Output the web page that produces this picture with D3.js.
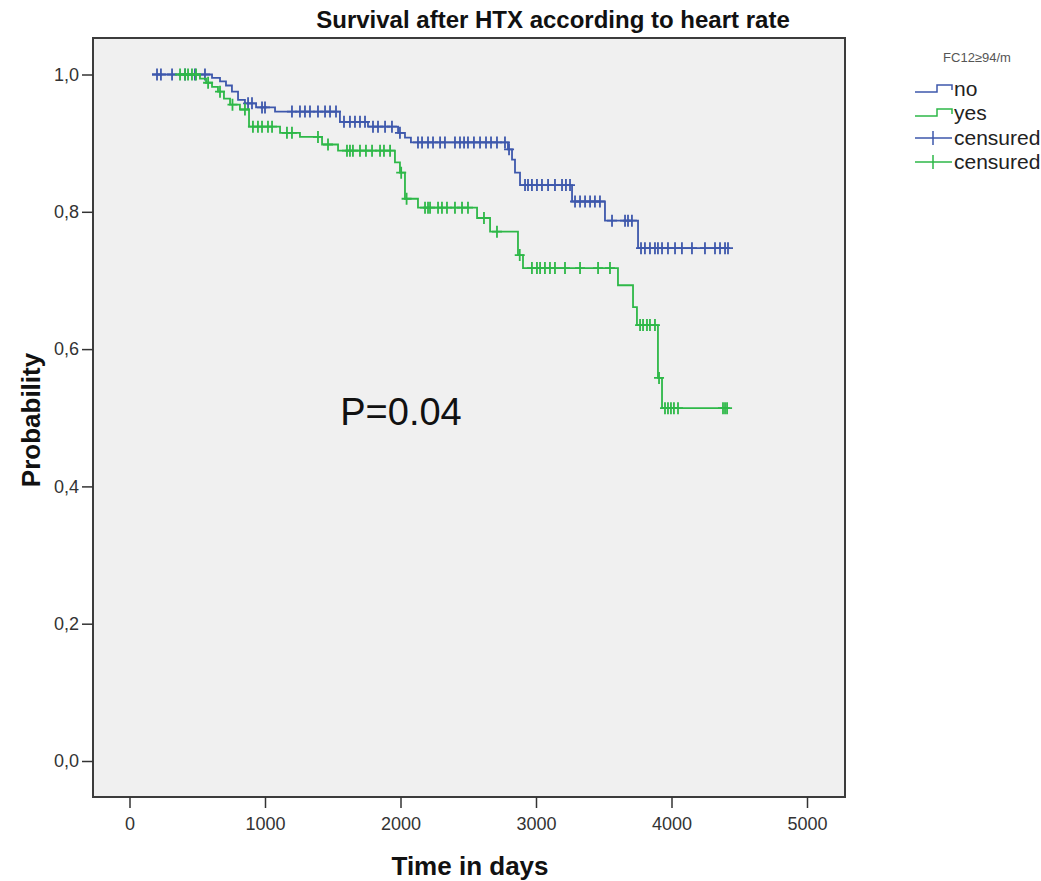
<!DOCTYPE html>
<html>
<head>
<meta charset="utf-8">
<script src="https://cdn.jsdelivr.net/npm/d3@7"></script>
<style>
  body { margin: 0; background: #fff; }
  svg text { font-family: "Liberation Sans", Arial, sans-serif; }
</style>
</head>
<body>
<div id="chart"></div>
<script>
// curvas Kaplan-Meier (tiempo en dias, supervivencia acumulada)
const title = "Survival after HTX according to heart rate";
const xTicks = [0, 1000, 2000, 3000, 4000, 5000];
const yTicks = [0, 0.2, 0.4, 0.6, 0.8, 1.0];

// grupo "no"
const noSteps = [
  [166, 1.0], [609, 0.995], [668, 0.990], [712, 0.984], [756, 0.975], [801, 0.963],
  [852, 0.958], [934, 0.952], [1074, 0.946], [1553, 0.931], [1760, 0.924], [1982, 0.915],
  [2033, 0.908], [2077, 0.901], [2793, 0.891], [2823, 0.876], [2845, 0.857], [2882, 0.839],
  [3266, 0.815], [3509, 0.787], [3753, 0.747]
];
const noEnd = 4417;
const noCensored = [
  203, 232, 314, 410, 483, 557, 875, 904, 978, 1000, 1199, 1258, 1295, 1332, 1391, 1443,
  1480, 1524, 1583, 1627, 1664, 1701, 1738, 1797, 1834, 1886, 1937, 1996, 2129, 2159,
  2203, 2240, 2292, 2328, 2402, 2439, 2469, 2498, 2542, 2587, 2631, 2668, 2712, 2771,
  2801, 2919, 2941, 2970, 3007, 3044, 3089, 3140, 3192, 3221, 3251, 3288, 3325, 3362,
  3399, 3435, 3472, 3561, 3657, 3679, 3708, 3775, 3804, 3841, 3878, 3900, 3930, 3974,
  4026, 4077, 4151, 4247, 4321, 4358, 4395, 4417
];

// grupo "yes"
const yesSteps = [
  [358, 1.0], [520, 0.994], [565, 0.988], [609, 0.982], [653, 0.975], [697, 0.965],
  [742, 0.956], [815, 0.949], [882, 0.924], [1111, 0.915], [1258, 0.909], [1421, 0.898],
  [1539, 0.889], [1959, 0.872], [1996, 0.857], [2033, 0.819], [2129, 0.806], [2565, 0.791],
  [2661, 0.771], [2867, 0.737], [2904, 0.718], [3605, 0.693], [3716, 0.661], [3745, 0.635],
  [3900, 0.558], [3930, 0.514]
];
const yesEnd = 4410;
const yesCensored = [
  373, 410, 432, 461, 491, 580, 668, 760, 852, 911, 948, 978, 1022, 1052, 1162, 1199,
  1391, 1465, 1605, 1627, 1649, 1701, 1745, 1790, 1849, 1878, 1923, 2005, 2045, 2181,
  2203, 2218, 2277, 2306, 2343, 2402, 2454, 2498, 2616, 2712, 2880, 2970, 3007, 3030,
  3066, 3103, 3140, 3214, 3325, 3458, 3546, 3768, 3790, 3819, 3841, 3878, 3908, 3952,
  3974, 3996, 4018, 4048, 4380, 4395, 4410
];

const legendTitle = "FC12\u226594/m";
const legendLabels = ["no", "yes", "censured", "censured"];
const pText = "P=0.04";

// ---- layout ----
const width = 1041, height = 881;
const frame = {left: 93, top: 38, right: 845, bottom: 797};
const blue = "#3e58ac", green = "#2eb848";

const svg = d3.select("#chart").append("svg")
  .attr("width", width)
  .attr("height", height);

const x = d3.scaleLinear().domain([0, 5000]).range([129.5, 807]);
const y = d3.scaleLinear().domain([0, 1]).range([761, 74.5]);

// fondo gris del area de graficos
svg.append("rect")
  .attr("x", frame.left).attr("y", frame.top)
  .attr("width", frame.right - frame.left)
  .attr("height", frame.bottom - frame.top)
  .attr("fill", "#f0f0f0")
  .attr("stroke", "#3c3c3c")
  .attr("stroke-width", 2);

// ejes (coma decimal en el eje y, enteros sin separador en x)
const fmt = d => d3.format(".1f")(d).replace(".", ",");

const xAxis = svg.append("g")
  .attr("transform", `translate(0,${frame.bottom})`)
  .call(d3.axisBottom(x).tickValues(xTicks).tickFormat(d3.format("d"))
    .tickSize(11).tickPadding(9).tickSizeOuter(0));

const yAxis = svg.append("g")
  .attr("transform", `translate(${frame.left},0)`)
  .call(d3.axisLeft(y).tickValues(yTicks).tickFormat(fmt).tickSize(11).tickPadding(3).tickSizeOuter(0));

[xAxis, yAxis].forEach(a => {
  a.select(".domain").remove();
  a.selectAll(".tick line").attr("stroke", "#333").attr("stroke-width", 1.5);
  a.selectAll(".tick text")
    .attr("fill", "#333")
    .style("font-size", "18px")
    .style("font-family", "'Liberation Sans', Arial, sans-serif");
});

// supervivencia en un tiempo dado (para ubicar las marcas de censura)
function survAt(steps, t){
  let p = steps[0][1];
  steps.forEach(s => { if(s[0] <= t) p = s[1]; });
  return p;
}

const line = d3.line()
  .x(d => x(d[0]))
  .y(d => y(d[1]))
  .curve(d3.curveStepAfter);

const groups = [
  {steps: noSteps, end: noEnd, cens: noCensored, color: blue},
  {steps: yesSteps, end: yesEnd, cens: yesCensored, color: green}
];

groups.forEach(g => {
  const pts = g.steps.concat([[g.end, g.steps[g.steps.length - 1][1]]]);
  svg.append("path")
    .datum(pts)
    .attr("fill", "none")
    .attr("stroke", g.color)
    .attr("stroke-width", 1.8)
    .attr("d", line);

  // cruces de censura
  svg.append("g").selectAll("path")
    .data(g.cens)
    .join("path")
    .attr("fill", "none")
    .attr("stroke", g.color)
    .attr("stroke-width", 1.8)
    .attr("d", t => {
      const cx = x(t), cy = y(survAt(g.steps, t));
      return `M${cx},${cy - 6}V${cy + 6}M${cx - 5},${cy}H${cx + 5}`;
    });
});

// titulos
svg.append("text")
  .attr("x", 553).attr("y", 28)
  .attr("text-anchor", "middle")
  .attr("font-weight", "bold")
  .attr("font-size", 24)
  .attr("fill", "#111")
  .text(title);

svg.append("text")
  .attr("x", 470).attr("y", 875)
  .attr("text-anchor", "middle")
  .attr("font-weight", "bold")
  .attr("font-size", 26)
  .attr("fill", "#111")
  .text("Time in days");

svg.append("text")
  .attr("transform", "translate(40,420) rotate(-90)")
  .attr("text-anchor", "middle")
  .attr("font-weight", "bold")
  .attr("font-size", 26)
  .attr("fill", "#111")
  .text("Probability");

svg.append("text")
  .attr("x", 401).attr("y", 425)
  .attr("text-anchor", "middle")
  .attr("font-size", 38)
  .attr("fill", "#111")
  .text(pText);

// leyenda
const lg = svg.append("g");
lg.append("text")
  .attr("x", 977).attr("y", 62)
  .attr("text-anchor", "middle")
  .attr("font-size", 13)
  .attr("fill", "#555")
  .text(legendTitle);

const legendRows = [89, 113, 138, 162];
const legendColors = [blue, green, blue, green];

legendLabels.forEach((lab, i) => {
  const ly = legendRows[i];
  const c = legendColors[i];
  if(i < 2){
    lg.append("path")
      .attr("fill", "none").attr("stroke", c).attr("stroke-width", 1.5)
      .attr("d", `M915,${ly + 3}H937V${ly - 4}H952V${ly + 1}`);
  } else {
    lg.append("path")
      .attr("fill", "none").attr("stroke", c).attr("stroke-width", 1.5)
      .attr("d", `M915,${ly}H952M933,${ly - 7}V${ly + 7}`);
  }
  lg.append("text")
    .attr("x", 954).attr("y", ly)
    .attr("dy", "0.35em")
    .attr("font-size", 21)
    .attr("fill", "#222")
    .text(lab);
});
</script>
</body>
</html>
